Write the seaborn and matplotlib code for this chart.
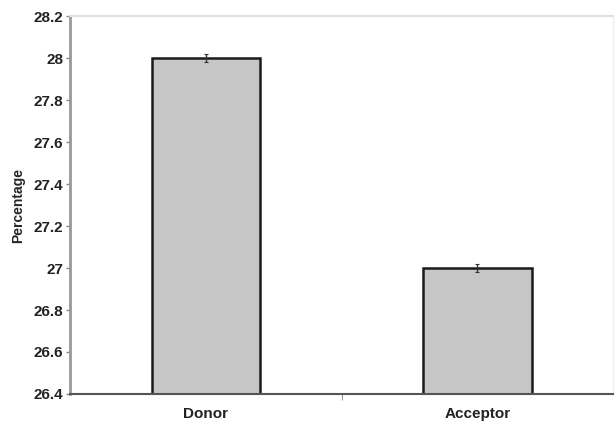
import seaborn as sns
import matplotlib.pyplot as plt
import pandas as pd

# values
groups = ["Donor", "Acceptor"]
percentages = [28.0, 27.0]
errors = [0.02, 0.02]

df = pd.DataFrame({"group": groups, "pct": percentages})

sns.set_style("white")
plt.rcParams["font.family"] = ["Liberation Sans", "DejaVu Sans"]

fig = plt.figure(figsize=(6.15, 4.25), dpi=100)
ax = fig.add_axes([0.114, 0.073, 0.883, 0.889])

sns.barplot(data=df, x="group", y="pct", color="#c6c6c6", saturation=1,
            edgecolor="#1a1a1a", linewidth=1.8, width=0.4, errorbar=None, ax=ax)
ax.errorbar(range(len(groups)), percentages, yerr=errors, fmt="none",
            ecolor="#333333", elinewidth=1, capsize=1.5, capthick=0.8)

ax.set_ylim(26.4, 28.2)
ax.set_yticks([26.4, 26.6, 26.8, 27.0, 27.2, 27.4, 27.6, 27.8, 28.0, 28.2])
ax.set_yticklabels(["26.4", "26.6", "26.8", "27", "27.2", "27.4", "27.6",
                    "27.8", "28", "28.2"])
ax.set_xlim(-0.5, 1.5)
ax.set_xlabel("")
ax.set_ylabel("Percentage", fontsize=10, fontweight="bold", labelpad=6)

for lab in ax.get_yticklabels() + ax.get_xticklabels():
    lab.set_fontweight("bold")
    lab.set_fontsize(11)
    lab.set_color("#222222")

ax.tick_params(axis="y", left=True, length=3, width=1, color="#888888", pad=2)
ax.tick_params(axis="x", bottom=False, pad=6)
ax.set_xticks([0.5], minor=True)
ax.tick_params(axis="x", which="minor", bottom=True, length=4, color="#777777")

ax.spines["left"].set_color("#999999")
ax.spines["left"].set_linewidth(2)
ax.spines["bottom"].set_color("#555555")
ax.spines["bottom"].set_linewidth(1.5)
ax.spines["top"].set_color("#e0e0e0")
ax.spines["top"].set_linewidth(1.5)
ax.spines["right"].set_color("#eeeeee")
ax.spines["right"].set_linewidth(1)

plt.savefig("out.png", dpi=100)
